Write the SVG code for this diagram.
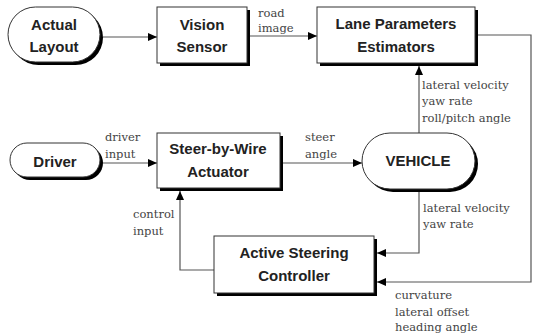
<svg xmlns="http://www.w3.org/2000/svg" width="533" height="334" viewBox="0 0 533 334">
<defs>
<style>
.sh{fill:#000}
.bx{fill:#fff;stroke:#333;stroke-width:1}
.nl{font-family:"Liberation Sans",Arial,sans-serif;font-weight:bold;font-size:15px;fill:#222;text-anchor:middle}
.el{font-family:"DejaVu Serif","Liberation Serif",serif;font-size:11.5px;fill:#444}
.cn{fill:none;stroke:#555;stroke-width:1.2}
</style>
<marker id="ah" markerWidth="10" markerHeight="8" refX="9" refY="4" orient="auto" markerUnits="userSpaceOnUse">
<path d="M0,0 L9,4 L0,8 Z" fill="#000"/>
</marker>
</defs>
<rect width="533" height="334" fill="#fff"/>

<g id="connectors">
<line class="cn" x1="103" y1="37" x2="157" y2="37" marker-end="url(#ah)"/>
<line class="cn" x1="250" y1="36" x2="317" y2="36" marker-end="url(#ah)"/>
<line class="cn" x1="419" y1="133" x2="419" y2="66" marker-end="url(#ah)"/>
<line class="cn" x1="103" y1="163" x2="157" y2="163" marker-end="url(#ah)"/>
<line class="cn" x1="283" y1="163" x2="362" y2="163" marker-end="url(#ah)"/>
<polyline class="cn" points="214,270 180,270 180,191" marker-end="url(#ah)"/>
<polyline class="cn" points="419,192 419,253 377,253" marker-end="url(#ah)"/>
<polyline class="cn" points="478,35 531,35 531,282 377,282" marker-end="url(#ah)"/>
<text class="el" x="258" y="17">road</text>
<text class="el" x="258" y="32">image</text>
<text class="el" x="422" y="89">lateral velocity</text>
<text class="el" x="422" y="105">yaw rate</text>
<text class="el" x="422" y="122">roll/pitch angle</text>
<text class="el" x="305" y="141">steer</text>
<text class="el" x="305" y="158">angle</text>
<text class="el" x="105" y="141">driver</text>
<text class="el" x="105" y="158">input</text>
<text class="el" x="133" y="218">control</text>
<text class="el" x="133" y="235">input</text>
<text class="el" x="423" y="212">lateral velocity</text>
<text class="el" x="423" y="228">yaw rate</text>
<text class="el" x="395" y="299">curvature</text>
<text class="el" x="395" y="316">lateral offset</text>
<text class="el" x="395" y="331">heading angle</text>
</g>

<g id="actual-layout">
<rect class="sh" x="11" y="10" width="92" height="55" rx="27.5"/>
<rect class="bx" x="8" y="7" width="92" height="55" rx="27.5"/>
<text class="nl" x="54" y="30">Actual</text>
<text class="nl" x="54" y="52">Layout</text>
</g>

<g id="vision-sensor">
<rect class="sh" x="160" y="10" width="90" height="56"/>
<rect class="bx" x="157" y="7" width="90" height="56"/>
<text class="nl" x="202" y="30">Vision</text>
<text class="nl" x="202" y="52">Sensor</text>
</g>

<g id="lane-parameters-estimators">
<rect class="sh" x="320" y="10" width="158" height="56"/>
<rect class="bx" x="317" y="7" width="158" height="56"/>
<text class="nl" x="396" y="29">Lane Parameters</text>
<text class="nl" x="396" y="52">Estimators</text>
</g>

<g id="driver">
<rect class="sh" x="13" y="146" width="90" height="34" rx="17"/>
<rect class="bx" x="10" y="143" width="90" height="34" rx="17"/>
<text class="nl" x="55" y="167">Driver</text>
</g>

<g id="steer-by-wire-actuator">
<rect class="sh" x="160" y="136" width="123" height="55"/>
<rect class="bx" x="157" y="133" width="123" height="55"/>
<text class="nl" x="218" y="154">Steer-by-Wire</text>
<text class="nl" x="218" y="177">Actuator</text>
</g>

<g id="vehicle">
<rect class="sh" x="365" y="136" width="113" height="56" rx="28"/>
<rect class="bx" x="362" y="133" width="113" height="56" rx="28"/>
<text class="nl" x="418" y="166">VEHICLE</text>
</g>

<g id="active-steering-controller">
<rect class="sh" x="217" y="239" width="160" height="57"/>
<rect class="bx" x="214" y="236" width="160" height="57"/>
<text class="nl" x="294" y="258">Active Steering</text>
<text class="nl" x="294" y="281">Controller</text>
</g>
</svg>
